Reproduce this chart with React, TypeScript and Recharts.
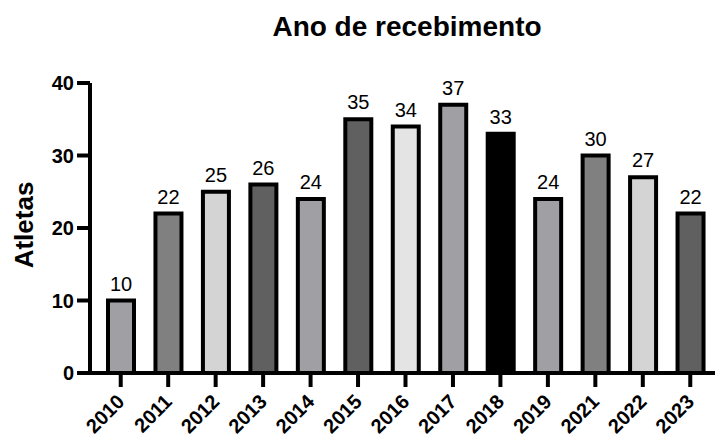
import React from "react";
import { BarChart, Bar, XAxis, YAxis, Cell, LabelList } from "recharts";

// Athletes received per year
const years = ["2010", "2011", "2012", "2013", "2014", "2015", "2016", "2017", "2018", "2019", "2021", "2022", "2023"];
const athletes = [10, 22, 25, 26, 24, 35, 34, 37, 33, 24, 30, 27, 22];
const barColors = ["#a0a0a4", "#808080", "#d4d4d4", "#606060", "#a0a0a4", "#606060", "#e4e4e4", "#a0a0a4", "#000000", "#a0a0a4", "#808080", "#d4d4d4", "#606060"];
const yTicks = [0, 10, 20, 30, 40];

const data = years.map((year, i) => ({ year, value: athletes[i] }));

const FONT = "Arial, 'Liberation Sans', Helvetica, sans-serif";

const XTick = (props: any) => {
  const { x, y, payload } = props;
  return (
    <g transform={`translate(${x + 5},${y + 14})`}>
      <text
        x={0}
        y={0}
        transform="rotate(-45)"
        textAnchor="end"
        style={{ fontFamily: FONT, fontWeight: 700, fontSize: "20px", fill: "#000" }}
      >
        {payload.value}
      </text>
    </g>
  );
};

export default function App() {
  return (
    <div style={{ position: "absolute", left: 0, top: 0, width: 715, height: 439, background: "#fff" }}>
      <svg width={715} height={439} style={{ position: "absolute", left: 0, top: 0 }}>
        <text x={407} y={36} textAnchor="middle" fontFamily={FONT} fontWeight="bold" fontSize={28} fill="#000">
          Ano de recebimento
        </text>
        <text
          x={0}
          y={0}
          transform="translate(33,225) rotate(-90)"
          textAnchor="middle"
          fontFamily={FONT}
          fontWeight="bold"
          fontSize={26}
          fill="#000"
        >
          Atletas
        </text>
      </svg>
      <div style={{ position: "absolute", left: 0, top: 0 }}>
        <BarChart width={715} height={439} data={data} margin={{ top: 83, right: 0, bottom: 0, left: 0 }} barCategoryGap={0}>
          <YAxis
            domain={[0, 40]}
            ticks={yTicks}
            width={90}
            axisLine={{ stroke: "#000", strokeWidth: 4 }}
            tickLine={{ stroke: "#000", strokeWidth: 4 }}
            tickSize={13}
            tick={{ fill: "#000", fontFamily: FONT, fontWeight: "bold", fontSize: 20 }}
            tickMargin={3}
            interval={0}
          />
          <XAxis
            dataKey="year"
            height={66}
            padding={{ left: 7, right: 1 }}
            axisLine={{ stroke: "#000", strokeWidth: 4 }}
            tickLine={{ stroke: "#000", strokeWidth: 4 }}
            tickSize={14}
            tick={<XTick />}
            interval={0}
          />
          <Bar dataKey="value" barSize={26} stroke="#000" strokeWidth={4} isAnimationActive={false}>
            {data.map((d, i) => (
              <Cell key={d.year} fill={barColors[i]} />
            ))}
            <LabelList dataKey="value" position="top" offset={10} fill="#000" fontFamily={FONT} fontSize={20} />
          </Bar>
        </BarChart>
      </div>
    </div>
  );
}
